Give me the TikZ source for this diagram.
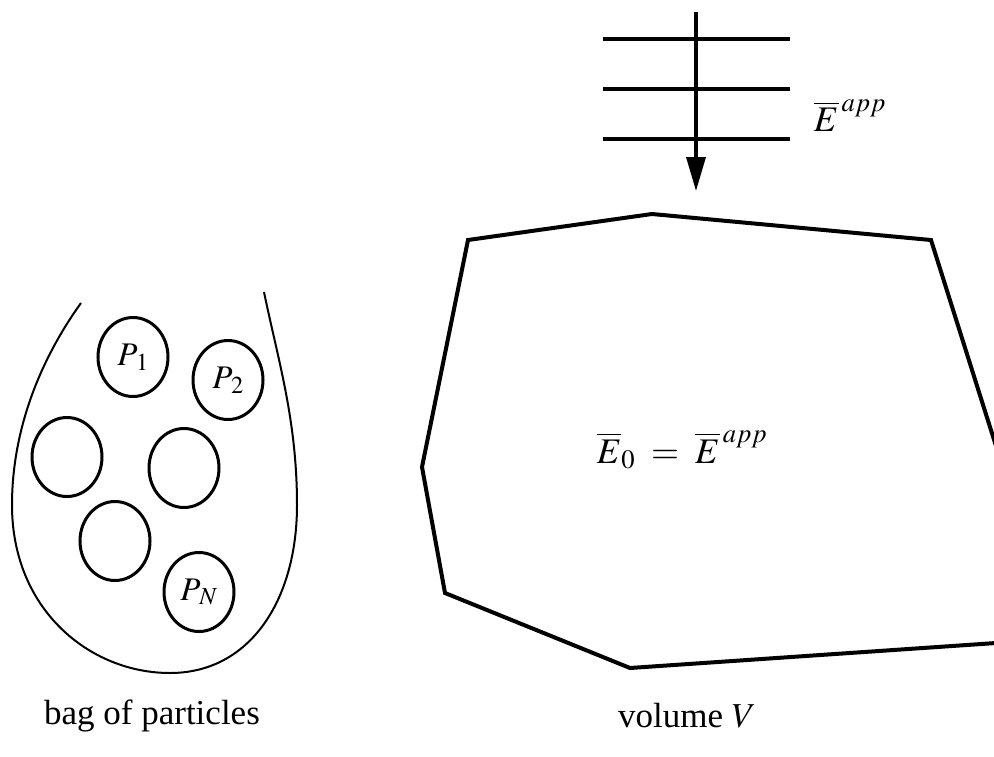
\documentclass[tikz,border=0pt]{standalone}
\usepackage{mathptmx}
\usepackage{fontspec}
\setmainfont{Liberation Serif}
\usetikzlibrary{arrows.meta,shapes.geometric}
\begin{document}
\begin{tikzpicture}[x=1pt,y=-1pt,
  particle/.style={draw,ellipse,line width=3pt,minimum width=70pt,minimum height=79pt,inner sep=0pt,font=\fontsize{33}{36}\selectfont},
  caption/.style={font=\fontsize{35}{40}\selectfont},
  mathlbl/.style={font=\fontsize{36}{40}\selectfont}]
\useasboundingbox (0,0) rectangle (994,756);
% field lines
\foreach \yy/\nm in {39/l1,89/l2,139/l3}{
  \coordinate (\nm a) at (603,\yy);
  \coordinate (\nm b) at (790,\yy);
  \draw[line width=3.5pt] (\nm a) -- (\nm b);
}
\coordinate (atop) at (696,12);
\coordinate (atip) at (696,191);
\draw[line width=3.5pt,-{Triangle[length=34pt,width=19pt]}] (atop) -- (atip);
\node[mathlbl] (eapp) at (850,116) {$\overline{E}^{\,app}$};
% volume
\coordinate (v1) at (468,240);
\coordinate (v2) at (652,214);
\coordinate (v3) at (931,240);
\coordinate (v4) at (996,446);
\coordinate (v5) at (996,643);
\coordinate (v6) at (630,668);
\coordinate (v7) at (445,593);
\coordinate (v8) at (422,467);
\draw[line width=4pt,line join=miter] (v4) -- (v3) -- (v2) -- (v1) -- (v8) -- (v7) -- (v6) -- (v5);
\node[mathlbl] (e0) at (682,450) {$\overline{E}_0\;=\;\overline{E}^{\,app}$};
% bag
\draw[line width=2pt] (81,303) .. controls (40,360) and (12,430) .. (12,505)
  .. controls (12,610) and (90,673) .. (170,673)
  .. controls (250,673) and (297,600) .. (297,505)
  .. controls (297,420) and (278,360) .. (264,292);
\node[particle] (p1) at (133,357) {$P_{\,1}$};
\node[particle] (p2) at (228,380) {$P_{\,2}$};
\node[particle] (p3) at (67,457) {};
\node[particle] (p4) at (184,468) {};
\node[particle] (p5) at (115,541) {};
\node[particle] (pn) at (199,592) {$P_{\,N}$};
\node[caption] (bag) at (152,716) {bag of particles};
\node[caption] (vol) at (687,716) {volume $V$};
\end{tikzpicture}
\end{document}
